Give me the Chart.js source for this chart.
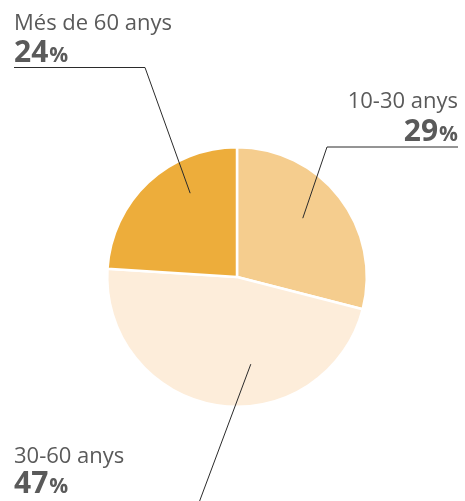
<!DOCTYPE html>
<html>
<head>
<meta charset="utf-8">
<script src="https://cdn.jsdelivr.net/npm/chart.js@4/dist/chart.umd.min.js"></script>
<style>
  body { margin: 0; background: #fff; }
  #wrap { width: 465px; height: 501px; position: relative; }
</style>
</head>
<body>
<div id="wrap"><canvas id="chart" width="465" height="501"></canvas></div>
<script>
// data
const ageGroups = ['10-30 anys', '30-60 anys', 'Més de 60 anys'];
const shares = [29, 47, 24];
const sliceColors = ['#F5CD8E', '#FDEDDA', '#EDAD3B'];

// where each callout sits (text pos, elbow, anchor angle tweak in deg, anchor radius fraction)
const callouts = [
  { x: 458, align: 'right', nameY: 108, pctY: 141, elbow: [[458, 147], [327, 147]], angleShift: -4, rFrac: 0.68 },
  { x: 14, align: 'left', nameY: 463, pctY: 493, elbow: null, end: [197, 508], angleShift: -18, rFrac: 0.68 },
  { x: 14, align: 'left', nameY: 30, pctY: 62, elbow: [[14, 67.5], [145, 67.5]], angleShift: 14, rFrac: 0.74 }
];

const textGrey = '#5a5a5a';

const calloutPlugin = {
  id: 'callouts',
  afterDraw(chart) {
    const ctx = chart.ctx;
    const arcs = chart.getDatasetMeta(0).data;
    ctx.save();
    arcs.forEach((arc, i) => {
      const c = callouts[i];
      const p = arc.getProps(['x', 'y', 'startAngle', 'endAngle', 'outerRadius'], true);
      const mid = (p.startAngle + p.endAngle) / 2 + c.angleShift * Math.PI / 180;
      const ax = p.x + Math.cos(mid) * p.outerRadius * c.rFrac;
      const ay = p.y + Math.sin(mid) * p.outerRadius * c.rFrac;

      // leader line
      ctx.strokeStyle = '#2b2b2b';
      ctx.lineWidth = 1;
      ctx.beginPath();
      if (c.elbow) {
        ctx.moveTo(c.elbow[0][0], c.elbow[0][1]);
        ctx.lineTo(c.elbow[1][0], c.elbow[1][1]);
        ctx.lineTo(ax, ay);
      } else {
        ctx.moveTo(ax, ay);
        ctx.lineTo(c.end[0], c.end[1]);
      }
      ctx.stroke();

      // name
      ctx.fillStyle = textGrey;
      ctx.textBaseline = 'alphabetic';
      ctx.textAlign = c.align;
      ctx.font = '400 22px "Open Sans"';
      ctx.fillText(ageGroups[i], c.x, c.nameY);

      // percent: big number + small %
      const num = String(shares[i]);
      ctx.font = '700 30px "Open Sans"';
      const numW = ctx.measureText(num).width;
      ctx.font = '700 21px "Open Sans"';
      const pctW = ctx.measureText('%').width;
      let left = c.align === 'right' ? c.x - numW - pctW - 1 : c.x;
      ctx.textAlign = 'left';
      ctx.font = '700 30px "Open Sans"';
      ctx.fillText(num, left, c.pctY);
      ctx.font = '700 21px "Open Sans"';
      ctx.fillText('%', left + numW + 1, c.pctY);
    });
    ctx.restore();
  }
};

new Chart(document.getElementById('chart'), {
  type: 'pie',
  data: {
    labels: ageGroups,
    datasets: [{
      data: shares,
      backgroundColor: sliceColors,
      borderColor: '#ffffff',
      borderWidth: 2.5
    }]
  },
  options: {
    responsive: false,
    animation: false,
    layout: { padding: { left: 106, right: 97, top: 146, bottom: 93 } },
    plugins: {
      legend: { display: false },
      tooltip: { enabled: false }
    }
  },
  plugins: [calloutPlugin]
});
</script>
</body>
</html>
